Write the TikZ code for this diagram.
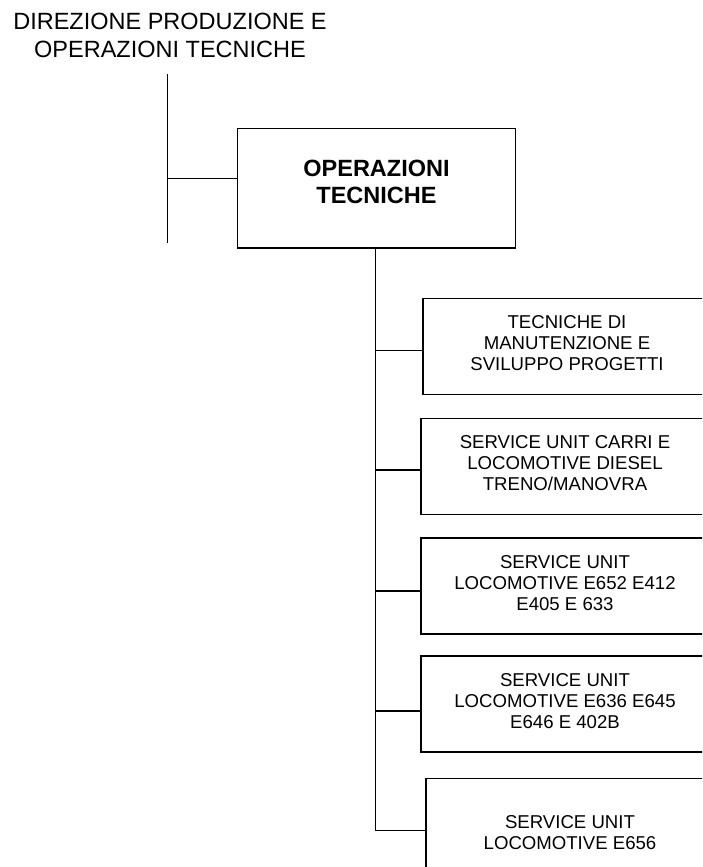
\documentclass[tikz,border=0pt]{standalone}
\usepackage{fontspec}
\setmainfont{Liberation Sans}
\begin{document}
\begin{tikzpicture}[x=1pt,y=-1pt,
  line width=1.3pt,
  conn/.style={draw=black,line width=1.3pt},
  unitbox/.style={draw=black,line width=1.3pt,inner sep=0pt,align=center,
    minimum width=288pt,minimum height=96pt,text depth=6.4pt,
    font=\fontsize{18.6}{21.2}\selectfont},
  mainbox/.style={draw=black,line width=1.3pt,inner sep=0pt,align=center,
    minimum width=278.4pt,minimum height=119.7pt,text depth=12.4pt,
    font=\fontsize{23.5}{27.3}\selectfont\bfseries},
  titletext/.style={inner sep=0pt,align=center,
    font=\fontsize{23.5}{27.4}\selectfont}]
\useasboundingbox (0,0) rectangle (702,867);
\clip (0,0) rectangle (702,867);

% title
\node[titletext] (dir) at (170,35.5) {DIREZIONE PRODUZIONE E\\OPERAZIONI TECNICHE};

% main box
\node[mainbox] (op) at (376.5,188.2) {OPERAZIONI\\TECNICHE};

% unit boxes
\node[unitbox] (b1) at (567,346.3) {TECNICHE DI\\MANUTENZIONE E\\SVILUPPO PROGETTI};
\node[unitbox] (b2) at (565,466.2) {SERVICE UNIT CARRI E\\LOCOMOTIVE DIESEL\\TRENO/MANOVRA};
\node[unitbox] (b3) at (565,586) {SERVICE UNIT\\LOCOMOTIVE E652 E412\\E405 E 633};
\node[unitbox] (b4) at (565,704) {SERVICE UNIT\\LOCOMOTIVE E636 E645\\E646 E 402B};
\node[unitbox,minimum height=115pt] (b5) at (570,835.8) {SERVICE UNIT\\LOCOMOTIVE E656};

% left vertical line
\coordinate (vtop) at (167.3,74);
\coordinate (vbot) at (167.3,242.7);
\coordinate (vtap) at (167.3,178.3);
\draw[conn] (vtop) -- (vbot);
\draw[conn] (vtap) -- (op.west |- vtap);

% trunk
\coordinate (ttop) at (375.7,248);
\coordinate (tbot) at (375.7,830.8);
\coordinate (t1) at (375.7,350.7);
\coordinate (t2) at (375.7,470);
\coordinate (t3) at (375.7,591);
\coordinate (t4) at (375.7,711);
\draw[conn] (op.south -| ttop) -- (tbot);
\draw[conn] (t1) -- (b1.west |- t1);
\draw[conn] (t2) -- (b2.west |- t2);
\draw[conn] (t3) -- (b3.west |- t3);
\draw[conn] (t4) -- (b4.west |- t4);
\draw[conn] (tbot) -- (b5.west |- tbot);
\end{tikzpicture}
\end{document}
